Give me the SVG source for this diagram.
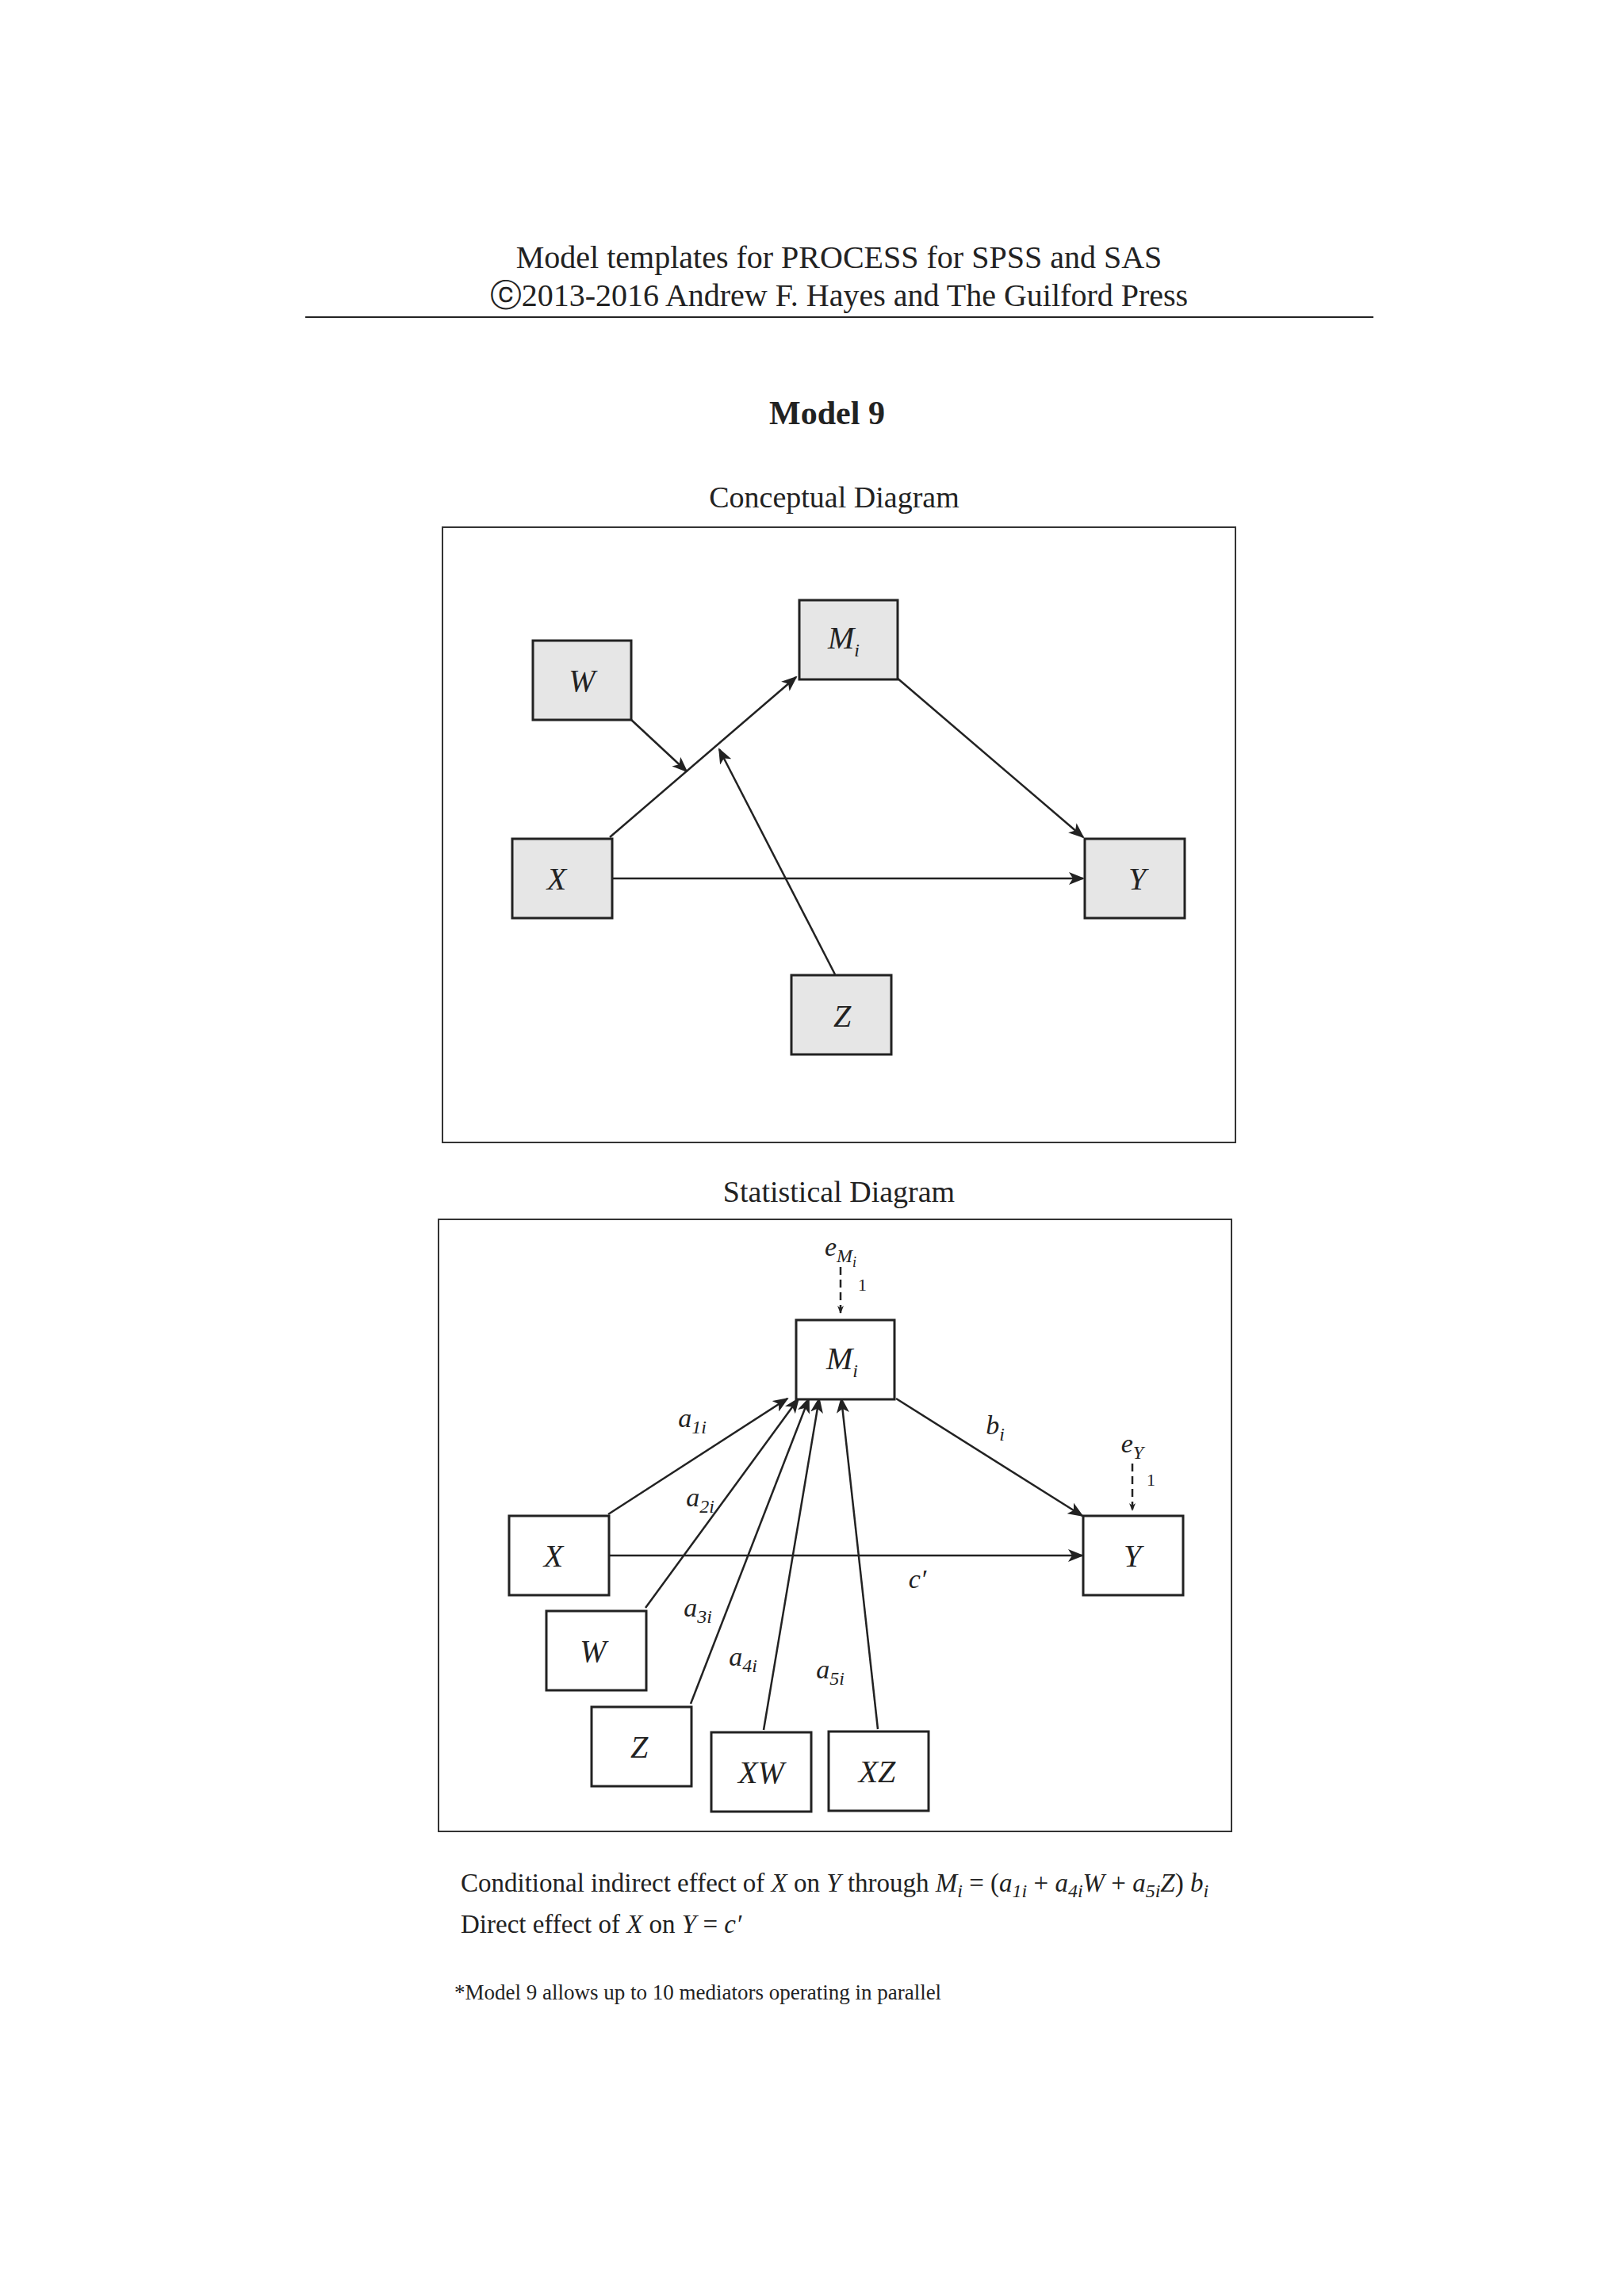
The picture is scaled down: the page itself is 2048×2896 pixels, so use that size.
<svg xmlns="http://www.w3.org/2000/svg" width="2048" height="2896" viewBox="0 0 2048 2896">
<style>
text{font-family:"Liberation Serif",serif;fill:#222}
.n{font-size:40px;font-style:italic;text-anchor:middle}
.l{font-size:34px;font-style:italic;text-anchor:middle}
.box{fill:none;stroke:#333;stroke-width:2}
.g{fill:#e6e6e6;stroke:#222;stroke-width:3}
.w{fill:#fff;stroke:#222;stroke-width:3}
.c line{stroke:#222;stroke-width:2.5;marker-end:url(#ah)}
.sub{font-size:24px}
</style>
<defs><marker id="ah" markerWidth="10" markerHeight="8" refX="9" refY="4" orient="auto" markerUnits="userSpaceOnUse" viewBox="0 0 10 8"><path d="M0,0 L10,4 L0,8 L3,4 z" fill="#222"/></marker>
<marker id="ah2" markerWidth="20" markerHeight="16" refX="18" refY="8" orient="auto" markerUnits="userSpaceOnUse" viewBox="0 0 20 16"><path d="M0,0 L20,8 L0,16 L5,8 z" fill="#222"/></marker></defs>
<rect width="2048" height="2896" fill="#fff"/>
<text x="1058" y="338" font-size="40" text-anchor="middle">Model templates for PROCESS for SPSS and SAS</text>
<text x="1058" y="386" font-size="40" text-anchor="middle">ⓒ2013-2016 Andrew F. Hayes and The Guilford Press</text>
<line x1="385" y1="400" x2="1732" y2="400" stroke="#222" stroke-width="2"/>
<text x="1043" y="535" font-size="42" font-weight="bold" text-anchor="middle">Model 9</text>
<text x="1052" y="640" font-size="38" text-anchor="middle">Conceptual Diagram</text>
<rect class="box" x="558" y="665" width="1000" height="776"/>
<g class="c" style="--x:0">
<line x1="769" y1="1056" x2="1004" y2="854" style="marker-end:url(#ah2)"/>
<line x1="794" y1="906" x2="866" y2="973" style="marker-end:url(#ah2)"/>
<line x1="1053" y1="1229" x2="907" y2="945" style="marker-end:url(#ah2)"/>
<line x1="1130" y1="854" x2="1366" y2="1056" style="marker-end:url(#ah2)"/>
<line x1="769" y1="1108" x2="1366" y2="1108" style="marker-end:url(#ah2)"/>
</g>
<g id="cW"><rect class="g" x="672" y="808" width="124" height="100"/><text class="n" x="734" y="872">W</text></g>
<g id="cM"><rect class="g" x="1008" y="757" width="124" height="100"/><text class="n" x="1064" y="818">M<tspan class="sub" dy="10">i</tspan></text></g>
<g id="cX"><rect class="g" x="646" y="1058" width="126" height="100"/><text class="n" x="702" y="1122">X</text></g>
<g id="cY"><rect class="g" x="1368" y="1058" width="126" height="100"/><text class="n" x="1434" y="1122">Y</text></g>
<g id="cZ"><rect class="g" x="998" y="1230" width="126" height="100"/><text class="n" x="1062" y="1295">Z</text></g>

<text x="1058" y="1516" font-size="38" text-anchor="middle">Statistical Diagram</text>
<rect class="box" x="553" y="1538" width="1000" height="772"/>
<g class="c">
<line x1="1060" y1="1598" x2="1060" y2="1656" stroke-dasharray="10,6"/>
<line x1="1428" y1="1846" x2="1428" y2="1905" stroke-dasharray="10,6"/>
<line x1="767" y1="1910" x2="993" y2="1764" style="marker-end:url(#ah2)"/>
<line x1="814" y1="2028" x2="1007" y2="1764" style="marker-end:url(#ah2)"/>
<line x1="871" y1="2149" x2="1020" y2="1764" style="marker-end:url(#ah2)"/>
<line x1="963" y1="2182" x2="1033" y2="1764" style="marker-end:url(#ah2)"/>
<line x1="1107" y1="2181" x2="1061" y2="1764" style="marker-end:url(#ah2)"/>
<line x1="1130" y1="1764" x2="1365" y2="1912" style="marker-end:url(#ah2)"/>
<line x1="767" y1="1962" x2="1365" y2="1962" style="marker-end:url(#ah2)"/>
</g>
<g id="sM"><rect class="w" x="1004" y="1665" width="124" height="100"/><text class="n" x="1062" y="1727">M<tspan class="sub" dy="10">i</tspan></text></g>
<g id="sX"><rect class="w" x="642" y="1912" width="126" height="100"/><text class="n" x="698" y="1976">X</text></g>
<g id="sY"><rect class="w" x="1366" y="1912" width="126" height="100"/><text class="n" x="1428" y="1976">Y</text></g>
<g id="sW"><rect class="w" x="689" y="2032" width="126" height="100"/><text class="n" x="748" y="2096">W</text></g>
<g id="sZ"><rect class="w" x="746" y="2153" width="126" height="100"/><text class="n" x="806" y="2217">Z</text></g>
<g id="sXW"><rect class="w" x="897" y="2185" width="126" height="100"/><text class="n" x="960" y="2249">XW</text></g>
<g id="sXZ"><rect class="w" x="1045" y="2184" width="126" height="100"/><text class="n" x="1106" y="2248">XZ</text></g>
<g id="labels">
<text class="l" x="1060" y="1584">e<tspan class="sub" dy="8">M</tspan><tspan font-size="18" dy="6">i</tspan></text>
<text x="1082" y="1628" font-size="22">1</text>
<text class="l" x="1428" y="1832">e<tspan class="sub" dy="8">Y</tspan></text>
<text x="1446" y="1874" font-size="22">1</text>
<text class="l" x="873" y="1800">a<tspan class="sub" dy="8">1i</tspan></text>
<text class="l" x="883" y="1900">a<tspan class="sub" dy="8">2i</tspan></text>
<text class="l" x="880" y="2039">a<tspan class="sub" dy="8">3i</tspan></text>
<text class="l" x="937" y="2101">a<tspan class="sub" dy="8">4i</tspan></text>
<text class="l" x="1047" y="2117">a<tspan class="sub" dy="8">5i</tspan></text>
<text class="l" x="1255" y="1809">b<tspan class="sub" dy="8">i</tspan></text>
<text class="l" x="1157" y="2003">c′</text>
</g>
<text x="581" y="2386" font-size="33">Conditional indirect effect of <tspan font-style="italic">X</tspan> on <tspan font-style="italic">Y</tspan> through <tspan font-style="italic">M<tspan class="sub" dy="7">i</tspan></tspan><tspan dy="-7"> = (</tspan><tspan font-style="italic">a<tspan class="sub" dy="7">1i</tspan></tspan><tspan dy="-7"> + </tspan><tspan font-style="italic">a<tspan class="sub" dy="7">4i</tspan><tspan dy="-7">W</tspan></tspan> + <tspan font-style="italic">a<tspan class="sub" dy="7">5i</tspan><tspan dy="-7">Z</tspan></tspan>) <tspan font-style="italic">b<tspan class="sub" dy="7">i</tspan></tspan></text>
<text x="581" y="2438" font-size="33">Direct effect of <tspan font-style="italic">X</tspan> on <tspan font-style="italic">Y</tspan> = <tspan font-style="italic">c′</tspan></text>
<text x="573" y="2522" font-size="27">*Model 9 allows up to 10 mediators operating in parallel</text>
</svg>
